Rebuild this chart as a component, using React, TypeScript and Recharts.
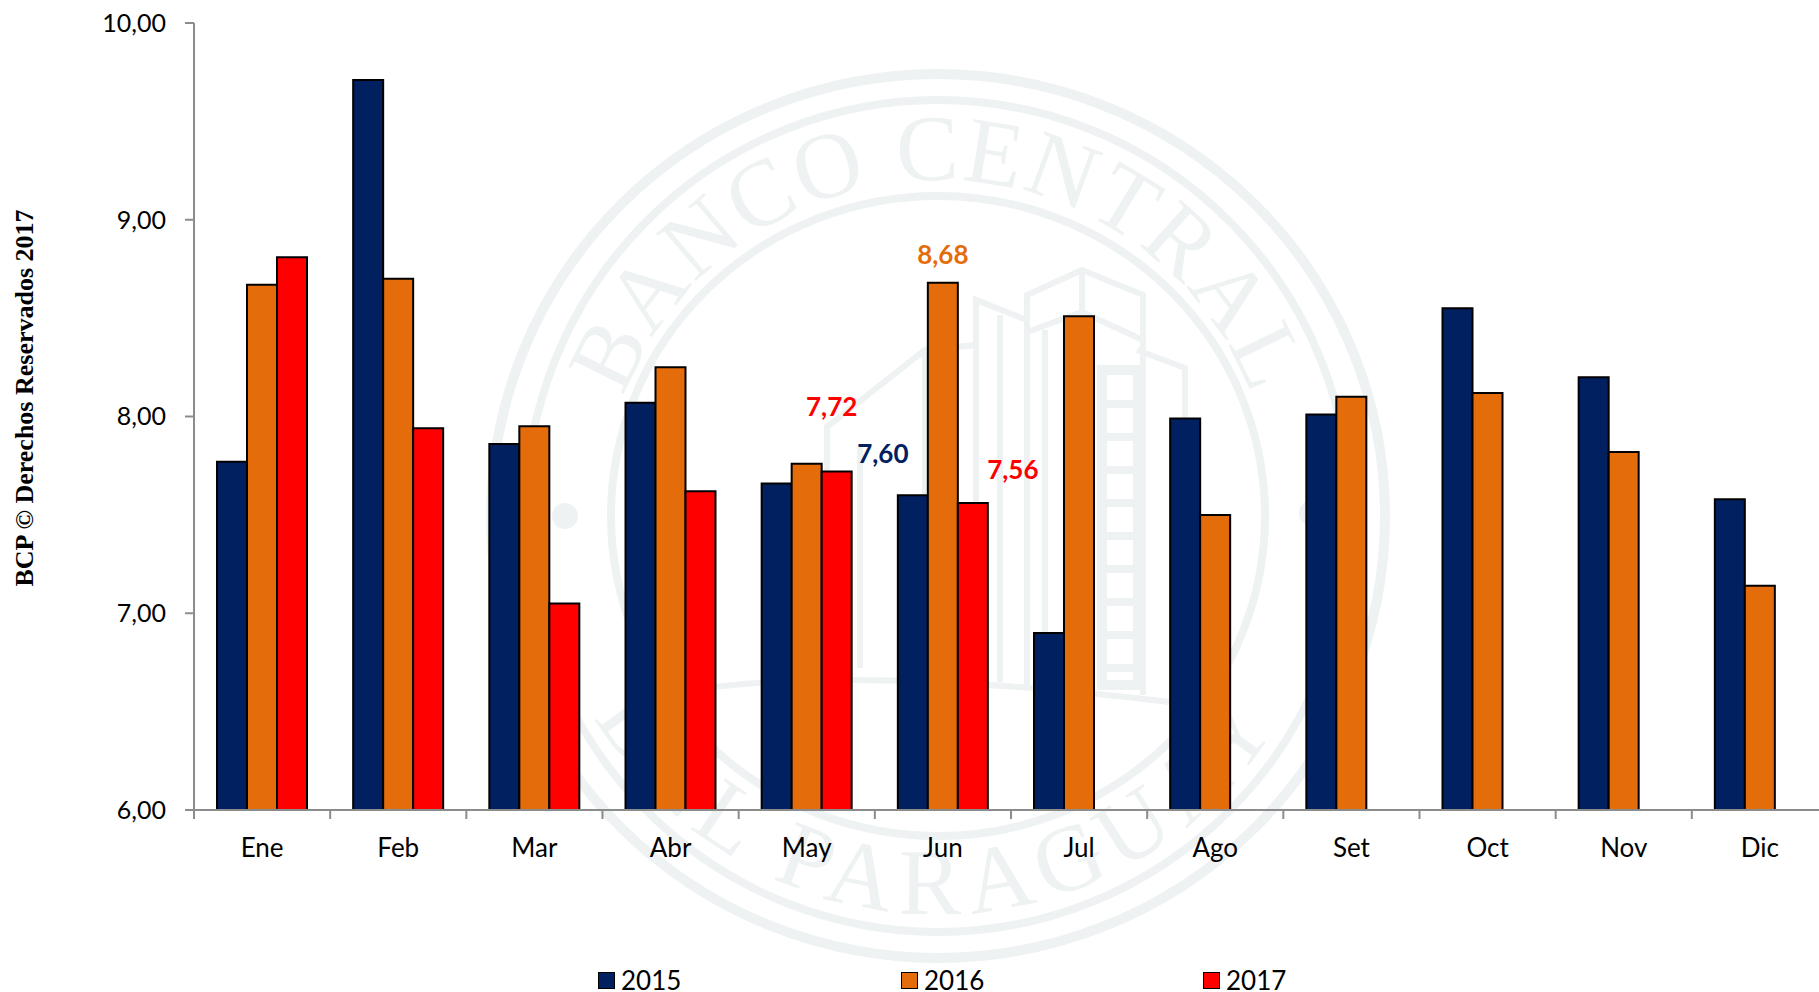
import React from 'react';
import { BarChart, Bar, XAxis, YAxis, Legend, LabelList } from 'recharts';

const MONTHS = ['Ene', 'Feb', 'Mar', 'Abr', 'May', 'Jun', 'Jul', 'Ago', 'Set', 'Oct', 'Nov', 'Dic'];
const V2015 = [7.77, 9.71, 7.86, 8.07, 7.66, 7.6, 6.9, 7.99, 8.01, 8.55, 8.2, 7.58];
const V2016 = [8.67, 8.7, 7.95, 8.25, 7.76, 8.68, 8.51, 7.5, 8.1, 8.12, 7.82, 7.14];
const V2017 = [8.81, 7.94, 7.05, 7.62, 7.72, 7.56, null, null, null, null, null, null];
const Y_TICKS = [6, 7, 8, 9, 10];
const BOUNDARY_TICKS = [0, 1, 2, 3, 4, 5, 6, 7, 8, 9, 10, 11, 12];

const NAVY = '#002060';
const ORANGE = '#E46C0A';
const RED = '#FF0000';
const AXIS_GREY = '#8C8C8C';
const SEAL = '#EEF2F2';
const FONT = 'Lato, sans-serif';

const data = MONTHS.map((month, i) => ({ month, edge: BOUNDARY_TICKS[i], v2015: V2015[i], v2016: V2016[i], v2017: V2017[i] }));
const comma = (v: number) => v.toFixed(2).replace('.', ',');

// the few callouts in the picture sit off to the side of their bars
const calloutLabel = (month: string, color: string, dx: number, dy: number) => (props: any) => {
    if (MONTHS[props.index] !== month) return null;
    return (
        <text
            x={props.x + props.width / 2 + dx}
            y={props.y + dy}
            fill={color}
            textAnchor="middle"
            dominantBaseline="central"
            style={{ fontFamily: FONT, fontSize: 26, fontWeight: 700 }}
        >
            {comma(props.value)}
        </text>
    );
};

function SeriesLegend() {
    const items = [
        { name: '2015', color: NAVY, left: 598 },
        { name: '2016', color: ORANGE, left: 901 },
        { name: '2017', color: RED, left: 1203 },
    ];
    return (
        <div style={{ position: 'absolute', left: 0, top: 0, height: 0, width: 0 }}>
            {items.map((it) => (
                <div key={it.name} style={{ position: 'absolute', left: it.left, top: 972, width: 17, height: 17, boxSizing: 'border-box', background: it.color, border: '1.5px solid #000' }} />
            ))}
            {items.map((it) => (
                <div key={it.name} style={{ position: 'absolute', left: it.left + 23, top: 968, lineHeight: '24px', fontFamily: FONT, fontSize: 26, color: '#000' }}>
                    {it.name}
                </div>
            ))}
        </div>
    );
}

// faint bank seal behind the chart
function Watermark() {
    const cx = 938;
    const cy = 516;
    return (
        <svg width={1819} height={992} style={{ position: 'absolute', left: 0, top: 0 }}>
            <g fill="none" stroke={SEAL}>
                <ellipse cx={cx} cy={cy} rx={447} ry={442} strokeWidth={10} />
                <ellipse cx={cx} cy={cy} rx={413} ry={416} strokeWidth={8} />
                <ellipse cx={cx} cy={cy} rx={327} ry={320} strokeWidth={8} />
                <g strokeWidth={6}>
                    <path d="M1027 690 V295 L1082 270 L1143 295 V695" />
                    <path d="M1027 332 L1082 312 L1143 340" />
                    <path d="M1082 272 V312" />
                    <path d="M1045 330 V685" />
                    <path d="M1027 320 L976 300 V680" />
                    <path d="M1000 315 V682" />
                    <path d="M976 345 L925 350 L827 427 V667" />
                    <path d="M860 445 V668 M925 352 V672" />
                    <path d="M1137 350 L1185 368 V697" />
                    <path d="M690 690 Q860 665 1170 702" />
                </g>
            </g>
            <rect x={1097} y={365} width={46} height={325} fill={SEAL} />
            <path d="M1120 375 V680" stroke="#fff" strokeWidth={26} strokeDasharray="25 8" fill="none" />
            <circle cx={565} cy={516} r={13} fill={SEAL} />
            <circle cx={1312} cy={513} r={13} fill={SEAL} />
            <defs>
                <path id="sealTop" d={`M${cx - 336} ${cy} A336 336 0 0 1 ${cx + 336} ${cy}`} />
                <path id="sealBottom" d={`M${cx - 398} ${cy} A398 398 0 0 0 ${cx + 398} ${cy}`} />
            </defs>
            <g fill={SEAL} style={{ fontFamily: 'Liberation Serif, serif', fontSize: 94 }}>
                <text textAnchor="middle" style={{ letterSpacing: 2 }}>
                    <textPath href="#sealTop" startOffset="50%">BANCO CENTRAL</textPath>
                </text>
                <text textAnchor="middle" style={{ letterSpacing: 10 }}>
                    <textPath href="#sealBottom" startOffset="50%">DEL PARAGUAY</textPath>
                </text>
            </g>
        </svg>
    );
}

export default function App() {
    return (
        <div style={{ position: 'absolute', left: 0, top: 0, width: 1819, height: 992, overflow: 'hidden', background: '#fff' }}>
            <Watermark />
            <div style={{ position: 'absolute', left: 0, top: 0 }}>
                <BarChart
                    width={1840}
                    height={992}
                    data={data}
                    margin={{ top: 23, right: 12, left: 124, bottom: 132 }}
                    barCategoryGap={23}
                    barGap={0}
                >
                    {/* ticks fall between the months in the picture, so they get their own axis */}
                    <XAxis
                        xAxisId="edges"
                        dataKey="edge"
                        type="number"
                        domain={[0, 12]}
                        allowDataOverflow
                        ticks={BOUNDARY_TICKS}
                        interval={0}
                        height={1}
                        tick={() => null}
                        tickSize={9}
                        axisLine={{ stroke: AXIS_GREY, strokeWidth: 2 }}
                        tickLine={{ stroke: AXIS_GREY, strokeWidth: 2 }}
                    />
                    <XAxis
                        xAxisId="months"
                        dataKey="month"
                        height={49}
                        axisLine={false}
                        tickLine={false}
                        tickMargin={22}
                        interval={0}
                        tick={{ fontFamily: FONT, fontSize: 26, fill: '#000' }}
                    />
                    <YAxis
                        width={70}
                        domain={[6, 10]}
                        ticks={Y_TICKS}
                        interval={0}
                        tickFormatter={comma}
                        tickSize={9}
                        tickMargin={19}
                        axisLine={{ stroke: AXIS_GREY, strokeWidth: 2 }}
                        tickLine={{ stroke: AXIS_GREY, strokeWidth: 2 }}
                        tick={{ fontFamily: FONT, fontSize: 25, fill: '#000' }}
                    />
                    <Legend content={<SeriesLegend />} wrapperStyle={{ position: 'absolute', left: 0, top: 0, width: 0, height: 0 }} />
                    <Bar xAxisId="months" dataKey="v2015" name="2015" fill={NAVY} stroke="#000" strokeWidth={2} isAnimationActive={false}>
                        <LabelList dataKey="v2015" content={calloutLabel('Jun', NAVY, -30, -42)} />
                    </Bar>
                    <Bar xAxisId="months" dataKey="v2016" name="2016" fill={ORANGE} stroke="#000" strokeWidth={2} isAnimationActive={false}>
                        <LabelList dataKey="v2016" content={calloutLabel('Jun', ORANGE, 0, -29)} />
                    </Bar>
                    <Bar xAxisId="months" dataKey="v2017" name="2017" fill={RED} stroke="#000" strokeWidth={2} isAnimationActive={false}>
                        <LabelList dataKey="v2017" content={calloutLabel('May', RED, -5, -66)} />
                        <LabelList dataKey="v2017" content={calloutLabel('Jun', RED, 40, -34)} />
                    </Bar>
                    <text
                        transform="translate(24 398) rotate(-90)"
                        textAnchor="middle"
                        dominantBaseline="central"
                        style={{ fontFamily: 'Liberation Serif, serif', fontSize: 26, fontWeight: 700 }}
                    >
                        BCP © Derechos Reservados 2017
                    </text>
                </BarChart>
            </div>
        </div>
    );
}
